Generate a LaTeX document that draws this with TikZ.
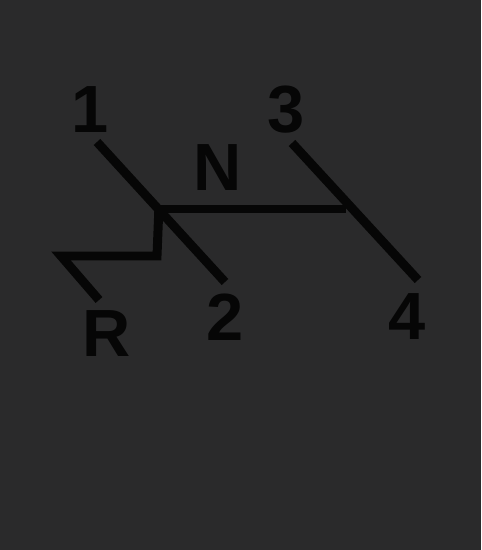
\documentclass[tikz,border=0pt]{standalone}
\usepackage{fontspec}
\setmainfont{Liberation Sans}
\usepackage{xcolor}
\usetikzlibrary{calc}
\definecolor{bg}{HTML}{2A2A2B}
\definecolor{ink}{HTML}{060606}
\tikzset{
  gate/.style={draw=ink, line width=5.1pt, line cap=butt, line join=miter},
  glbl/.style={text=ink, font=\fontsize{38}{38}\selectfont\bfseries, inner sep=0pt}
}

\begin{document}
\begin{tikzpicture}[x=0.02cm, y=-0.02cm]
  \fill[bg] (0,0) rectangle (481,550);
  \useasboundingbox (0,0) rectangle (481,550);

  % shift gate ends
  \coordinate (G1) at (97,142);
  \coordinate (G2) at (225,282);
  \coordinate (G3) at (292,143);
  \coordinate (G4) at (418,280);
  \coordinate (X) at (159,209);
  \coordinate (Y) at (346,209);
  \coordinate (RT) at (157,256);
  \coordinate (RL) at (61,256);
  \coordinate (RE) at (99,300);

  \draw[gate] (G1)--(G2);
  \draw[gate] (G3)--(G4);
  \draw[gate] (X)--(Y);
  \draw[gate] (X|-0,205)--(RT)--(RL)--(RE);

  \node[glbl] (n1) at (90,110) {1};
  \node[glbl] (n2) at (225,317) {2};
  \node[glbl] (n3) at (286,110) {3};
  \node[glbl] (n4) at (407,317) {4};
  \node[glbl] (nN) at (218,168) {N};
  \node[glbl] (nR) at (107,334) {R};
\end{tikzpicture}
\end{document}
